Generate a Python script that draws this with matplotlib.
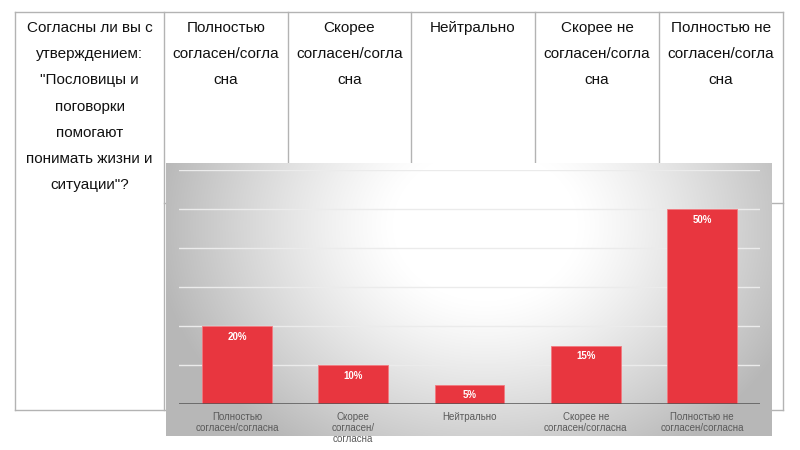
import numpy as np
import matplotlib
matplotlib.use("Agg")
import matplotlib.pyplot as plt

plt.rcParams['font.family'] = ['Liberation Sans', 'DejaVu Sans']

# ---- data ----
header_question = ['Согласны ли вы с', 'утверждением:', '"Пословицы и', 'поговорки',
                   'помогают', 'понимать жизни и', 'ситуации"?']
header_cols = [['Полностью', 'согласен/согла', 'сна'],
               ['Скорее', 'согласен/согла', 'сна'],
               ['Нейтрально'],
               ['Скорее не', 'согласен/согла', 'сна'],
               ['Полностью не', 'согласен/согла', 'сна']]
categories = ['Полностью\nсогласен/согласна', 'Скорее\nсогласен/\nсогласна', 'Нейтрально',
              'Скорее не\nсогласен/согласна', 'Полностью не\nсогласен/согласна']
values = [20, 10, 5, 15, 50]
yticks = [10, 20, 30, 40, 50, 60]

W, H = 800, 450
fig = plt.figure(figsize=(8, 4.5), dpi=100)
fig.patch.set_facecolor('white')

# ---- table layer (pixel coordinates) ----
tb = fig.add_axes([0, 0, 1, 1])
tb.set_xlim(0, W)
tb.set_ylim(H, 0)
tb.axis('off')
lc = '#b3b3b3'
col_x = [15, 164, 288, 411, 535, 659, 783]
top, bottom = 12, 410
tb.plot([15, 783], [top, top], color=lc, lw=1)
tb.plot([15, 783], [bottom, bottom], color=lc, lw=1)
for x in col_x:
    tb.plot([x, x], [top, bottom], color=lc, lw=1)
tb.plot([164, 783], [203, 203], color=lc, lw=1)

for i, line in enumerate(header_question):
    tb.text((col_x[0] + col_x[1]) / 2, 28 + i * 26.2, line, ha='center', va='center',
            fontsize=11, color='#111111')
for j, lines in enumerate(header_cols):
    cx = (col_x[j + 1] + col_x[j + 2]) / 2
    for i, line in enumerate(lines):
        tb.text(cx, 28 + i * 26.2, line, ha='center', va='center', fontsize=11, color='#111111')

# ---- chart background (radial gradient) ----
bx0, bx1, by0, by1 = 166, 772, 163, 436
bg = fig.add_axes([bx0 / W, 1 - by1 / H, (bx1 - bx0) / W, (by1 - by0) / H])
xs = np.arange(bx0, bx1)
ys = np.arange(by0, by1)
X, Y = np.meshgrid(xs, ys)
cxg, cyg = 485, 225
t = np.sqrt(((X - cxg) / 330.0) ** 2 + ((Y - cyg) / 270.0) ** 2)
r = np.clip((t - 0.28) / 0.72, 0, 1)
v = 1 - 0.28 * r ** 1.2
img = np.dstack([v, v, v])
bg.imshow(img, aspect='auto', extent=[0, 1, 0, 1])
bg.set_xlim(0, 1)
bg.set_ylim(0, 1)
bg.axis('off')

# ---- bar chart ----
px0, px1, py0, py1 = 179, 760, 170, 404
ax = fig.add_axes([px0 / W, 1 - py1 / H, (px1 - px0) / W, (py1 - py0) / H])
ax.patch.set_alpha(0)
x = np.arange(len(categories))
bars = ax.bar(x, values, width=0.6, color='#e8363f', edgecolor='#f27a80', linewidth=0.6, zorder=3)
ax.set_xlim(-0.5, len(categories) - 0.5)
ax.set_ylim(0, 60)
ax.set_yticks(yticks)
for yv in yticks:
    ax.axhline(yv, color='#ebebeb', lw=1.0, zorder=1)
ax.axhline(0, color='#555555', lw=1.8, zorder=4)
for s in ax.spines.values():
    s.set_visible(False)
ax.tick_params(axis='y', left=False, labelleft=False)
ax.tick_params(axis='x', bottom=False, pad=2)
ax.set_xticks(x)
ax.set_xticklabels(categories, fontsize=7, color='#5a5a5a', linespacing=1.15, va='top')
for b, val in zip(bars, values):
    ax.text(b.get_x() + b.get_width() / 2, val - 1.5, f'{val}%', ha='center', va='top',
            fontsize=7, color='white', fontweight='bold', zorder=5)

fig.savefig('out.png', dpi=100)
